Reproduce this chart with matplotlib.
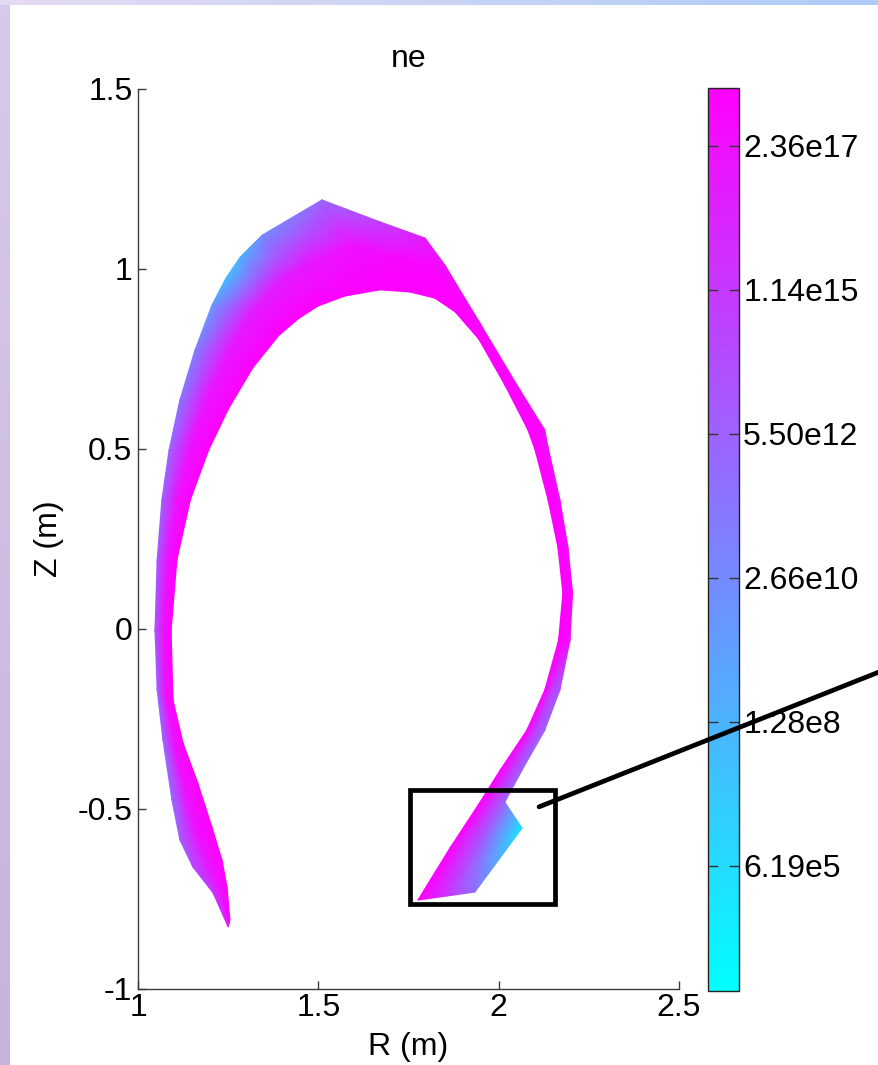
import numpy as np
import matplotlib
matplotlib.use('Agg')
import matplotlib.pyplot as plt
from matplotlib.colors import LogNorm
from matplotlib.patches import Rectangle, ConnectionPatch
from matplotlib.cm import ScalarMappable

plt.rcParams['font.family'] = ['Liberation Sans', 'DejaVu Sans']

# ---------------- data ----------------
# outer (wall side) edge of the edge-plasma band, inner-leg tip -> outer-leg target
R_outer = [1.250, 1.208, 1.152, 1.116, 1.094, 1.069, 1.053, 1.047, 1.053, 1.066,
           1.086, 1.116, 1.158, 1.205, 1.244, 1.283, 1.344, 1.510, 1.671, 1.796, 1.851,
           1.948, 2.059, 2.128, 2.137, 2.170, 2.192, 2.205, 2.198, 2.170, 2.128,
           2.065, 2.017, 2.065, 1.934]
Z_outer = [-0.828, -0.733, -0.661, -0.586, -0.475, -0.308, -0.169, -0.003, 0.192, 0.358,
           0.497, 0.636, 0.775, 0.900, 0.975, 1.033, 1.094, 1.192, 1.131, 1.086, 1.011,
           0.850, 0.664, 0.553, 0.506, 0.358, 0.228, 0.100, -0.031, -0.169, -0.281,
           -0.392, -0.481, -0.553, -0.731]
# inner (separatrix side) edge
R_inner = [1.255, 1.247, 1.233, 1.205, 1.166, 1.125, 1.097, 1.092, 1.108, 1.145,
           1.196, 1.250, 1.318, 1.390, 1.445, 1.499, 1.574, 1.671, 1.754, 1.823, 1.879,
           1.945, 2.017, 2.081, 2.101, 2.137, 2.164, 2.178, 2.166, 2.128, 2.078,
           2.004, 1.943, 1.865, 1.776]
Z_inner = [-0.808, -0.717, -0.642, -0.550, -0.428, -0.317, -0.197, -0.003, 0.192, 0.358,
           0.497, 0.610, 0.725, 0.815, 0.862, 0.897, 0.925, 0.942, 0.936, 0.919, 0.881,
           0.805, 0.678, 0.553, 0.497, 0.358, 0.228, 0.100, -0.031, -0.169, -0.281,
           -0.392, -0.489, -0.608, -0.753]
# electron density (m^-3) on outer edge, mid band, inner edge
ne_outer = [1.4e16, 1.3e15, 9e13, 6e12, 1.6e12, 1.6e12, 6e12, 1.7e13, 1.7e13, 6e12,
            3e12, 4e11, 1.1e11, 4e9, 3e7, 1.4e8, 2e10, 3e12, 4.8e14, 5e16, 1.9e17,
            4e17, 4e17, 4e17, 2e17, 4e17, 4e17, 4e17, 2e17, 1.7e13, 3e12,
            3e12, 3e12, 1.0e5, 6e11]
ne_mid = [4e17, 2e17, 1e17, 1.9e17, 1.9e17, 1.9e17, 1.9e17, 1.9e17, 1.9e17, 1.9e17,
          1.9e17, 1.2e17, 7e16, 5e16, 4e16, 5e16, 7e16, 2e17, 7e17, 1.3e18, 1.5e18,
          1.5e18, 1.5e18, 1.5e18, 1e18, 1.5e18, 1.5e18, 1.5e18, 1e18, 4.8e14, 4.8e14,
          2.5e15, 2.5e15, 3e12, 2.5e15]
ne_inner = [7e17, 1.5e18, 2e18, 2e18, 2e18, 2e18, 2e18, 2e18, 2e18, 2e18,
            2e18, 2e18, 2e18, 2e18, 2e18, 2e18, 2e18, 2e18, 2e18, 2e18, 2e18,
            2e18, 2e18, 2e18, 2e18, 2e18, 2e18, 2e18, 2e18, 2e18, 2e18,
            2e18, 2e18, 2e18, 2e18]

ne_min, ne_max = 6.0e3, 2.0e18
cbar_ticks = [2.36e17, 1.14e15, 5.50e12, 2.66e10, 1.28e8, 6.19e5]
cbar_labels = ['2.36e17', '1.14e15', '5.50e12', '2.66e10', '1.28e8', '6.19e5']
x_ticks = [1, 1.5, 2, 2.5]
x_ticklabels = ['1', '1.5', '2', '2.5']
y_ticks = [-1, -0.5, 0, 0.5, 1, 1.5]
y_ticklabels = ['-1', '-0.5', '0', '0.5', '1', '1.5']
zoom_box = (1.754, -0.764, 0.402, 0.317)       # R0, Z0, dR, dZ
pointer_start = (2.112, -0.494)                 # data coords
pointer_end = (1.0, 0.369)                      # figure fraction (right edge)

# ---------------- figure ----------------
W, H = 879, 1065
fig = plt.figure(figsize=(W / 100, H / 100), dpi=100)
fig.patch.set_facecolor('white')

# slide-style decoration: left lavender strip, top light-blue strip
bg = fig.add_axes([0, 0, 1, 1], zorder=-5)
bg.set_xlim(0, W)
bg.set_ylim(H, 0)
bg.axis('off')
left_grad = np.linspace(0, 1, 256)[:, None]
left_cols = np.array([[0.84, 0.79, 0.92]]) * (1 - left_grad[..., None]) + \
    np.array([[0.78, 0.70, 0.87]]) * left_grad[..., None]
bg.imshow(left_cols, extent=[0, 10, H, 0], aspect='auto', zorder=1)
top_grad = np.linspace(0, 1, 256)[None, :]
top_cols = np.array([[0.90, 0.86, 0.95]]) * (1 - top_grad[..., None]) + \
    np.array([[0.68, 0.80, 0.97]]) * top_grad[..., None]
bg.imshow(top_cols, extent=[0, W, 5, 0], aspect='auto', zorder=1)

ax = fig.add_axes([138 / W, 76 / H, 541 / W, 900 / H])
norm = LogNorm(vmin=ne_min, vmax=ne_max)
cmap = plt.get_cmap('cool')

Ri, Zi = np.array(R_inner), np.array(Z_inner)
Ro, Zo = np.array(R_outer), np.array(Z_outer)
X = np.vstack([Ri, (Ri + Ro) / 2, Ro])
Y = np.vstack([Zi, (Zi + Zo) / 2, Zo])
C = np.vstack([ne_inner, ne_mid, ne_outer])
ax.pcolormesh(X, Y, C, shading='gouraud', cmap=cmap, norm=norm, antialiased=True)

ax.set_xlim(1, 2.5)
ax.set_ylim(-1, 1.5)
ax.set_xticks(x_ticks)
ax.set_xticklabels(x_ticklabels)
ax.set_yticks(y_ticks)
ax.set_yticklabels(y_ticklabels)
for s in ['top', 'right']:
    ax.spines[s].set_visible(False)
for s in ['left', 'bottom']:
    ax.spines[s].set_color('#3a3a3a')
    ax.spines[s].set_linewidth(1.0)
ax.tick_params(direction='in', length=6, width=1, color='#3a3a3a',
               labelsize=23, pad=4)
ax.tick_params(axis='x', pad=3)
ax.set_xlabel('R (m)', fontsize=23, labelpad=6)
ax.set_ylabel('Z (m)', fontsize=23, labelpad=10)
ax.set_title('ne', fontsize=23, pad=16)

ax.add_patch(Rectangle((zoom_box[0], zoom_box[1]), zoom_box[2], zoom_box[3],
                       fill=False, edgecolor='black', linewidth=3.4,
                       clip_on=False, zorder=5))

# colorbar
cax = fig.add_axes([708 / W, 74 / H, 31 / W, 903 / H])
sm = ScalarMappable(norm=norm, cmap=cmap)
cb = fig.colorbar(sm, cax=cax)
cb.set_ticks(cbar_ticks)
cb.set_ticklabels(cbar_labels)
cb.ax.minorticks_off()
cb.outline.set_edgecolor('#222222')
cb.outline.set_linewidth(1.0)
cb.ax.tick_params(which='both', direction='in', left=True, right=True, length=7,
                  width=1, color='#333333', labelsize=23, pad=3)

# pointer line from the box to the right edge
con = ConnectionPatch(xyA=pointer_start, coordsA=ax.transData,
                      xyB=pointer_end, coordsB=fig.transFigure,
                      color='black', linewidth=3.4, zorder=20)
fig.add_artist(con)

fig.savefig('out.png', dpi=100)
